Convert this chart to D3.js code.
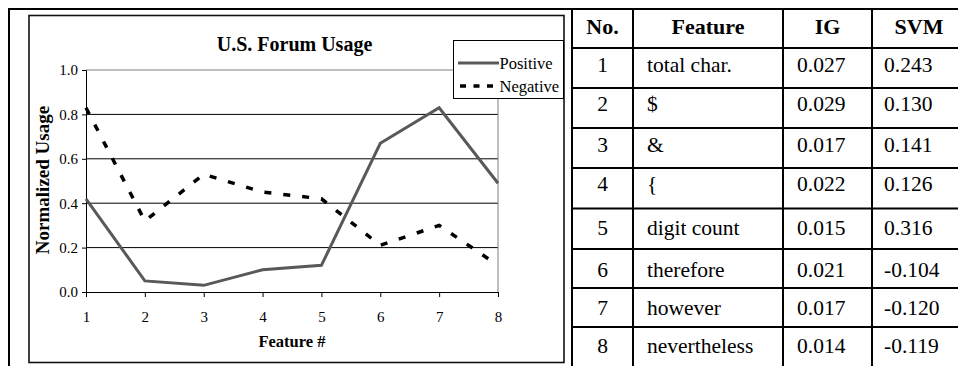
<!DOCTYPE html>
<html>
<head>
<meta charset="utf-8">
<script src="https://cdn.jsdelivr.net/npm/d3@7/dist/d3.min.js"></script>
<style>
  html, body { margin: 0; padding: 0; background: #fff; }
  svg { display: block; }
</style>
</head>
<body>
<svg id="fig" width="958" height="366"></svg>
<script>
// Line chart data: normalized usage per feature
const features = [1, 2, 3, 4, 5, 6, 7, 8];
const positive = [0.42, 0.05, 0.03, 0.10, 0.12, 0.67, 0.83, 0.49];
const negative = [0.83, 0.32, 0.53, 0.45, 0.42, 0.21, 0.30, 0.12];
const yTicks = [0.0, 0.2, 0.4, 0.6, 0.8, 1.0];
const seriesNames = ["Positive", "Negative"];

// Feature table
const tableHeader = ["No.", "Feature", "IG", "SVM"];
const tableNo = ["1", "2", "3", "4", "5", "6", "7", "8"];
const tableFeature = ["total char.", "$", "&", "{", "digit count", "therefore", "however", "nevertheless"];
const tableIG = ["0.027", "0.029", "0.017", "0.022", "0.015", "0.021", "0.017", "0.014"];
const tableSVM = ["0.243", "0.130", "0.141", "0.126", "0.316", "-0.104", "-0.120", "-0.119"];

const SERIF = "'Liberation Serif', 'Times New Roman', 'DejaVu Serif', serif";
const svg = d3.select("#fig");
svg.attr("font-family", SERIF);

function txt(sel, size, bold) {
  return sel.attr("font-family", SERIF).style("font-family", SERIF)
    .attr("font-size", size).style("font-size", size + "px")
    .style("font-weight", bold ? "bold" : "normal").attr("fill", "#000");
}

// ---- outer frame ----
svg.append("line").attr("x1", 8).attr("x2", 958).attr("y1", 9).attr("y2", 9)
  .attr("stroke", "#000").attr("stroke-width", 2);
svg.append("line").attr("x1", 9).attr("x2", 9).attr("y1", 8).attr("y2", 366)
  .attr("stroke", "#000").attr("stroke-width", 2);

// ---- chart frame ----
svg.append("rect").attr("x", 29).attr("y", 15.5).attr("width", 535).attr("height", 347)
  .attr("fill", "#fff").attr("stroke", "#111").attr("stroke-width", 1.6);

const plot = { left: 86, right: 498, top: 70, bottom: 292 };
const x = d3.scaleLinear().domain([1, 8]).range([plot.left, plot.right]);
const y = d3.scaleLinear().domain([0, 1]).range([plot.bottom, plot.top]);

const g = svg.append("g");

// gridlines
g.selectAll("line.grid").data(yTicks.filter(v => v > 0)).join("line")
  .attr("class", "grid")
  .attr("x1", plot.left).attr("x2", plot.right)
  .attr("y1", d => y(d)).attr("y2", d => y(d))
  .attr("stroke", d => d === 1 ? "#808080" : "#000").attr("stroke-width", 1);

// plot area right edge
g.append("line").attr("x1", plot.right).attr("x2", plot.right)
  .attr("y1", plot.top).attr("y2", plot.bottom)
  .attr("stroke", "#808080").attr("stroke-width", 1);

// y axis
const yAxis = d3.axisLeft(y).tickValues(yTicks).tickFormat(d3.format(".1f"))
  .tickSize(4).tickPadding(4);
g.append("g").attr("transform", `translate(${plot.left},0)`).call(yAxis)
  .call(a => a.attr("font-family", SERIF))
  .call(a => txt(a.selectAll("text"), 15, false))
  .call(a => a.selectAll("line, path").attr("stroke", "#000"));

// x axis
const xAxis = d3.axisBottom(x).tickValues(features).tickFormat(d3.format("d"))
  .tickSize(5).tickPadding(14).tickSizeOuter(0);
g.append("g").attr("transform", `translate(0,${plot.bottom})`).call(xAxis)
  .call(a => a.attr("font-family", SERIF))
  .call(a => txt(a.selectAll("text"), 15, false))
  .call(a => a.selectAll("line, path").attr("stroke", "#000"));

// series lines
const line = d3.line().x((d, i) => x(features[i])).y(d => y(d));
g.append("path").datum(positive).attr("d", line)
  .attr("fill", "none").attr("stroke", "#595959").attr("stroke-width", 3)
  .attr("stroke-linejoin", "miter");
g.append("path").datum(negative).attr("d", line)
  .attr("fill", "none").attr("stroke", "#000").attr("stroke-width", 3.5)
  .attr("stroke-dasharray", "7,12");

// titles
txt(svg.append("text"), 20, true).attr("x", 294.5).attr("y", 51)
  .attr("text-anchor", "middle").text("U.S. Forum Usage");
txt(svg.append("text"), 19, true).attr("transform", "translate(49,180) rotate(-90)")
  .attr("text-anchor", "middle").text("Normalized Usage");
txt(svg.append("text"), 16.5, true).attr("x", (plot.left + plot.right) / 2).attr("y", 347)
  .attr("text-anchor", "middle").text("Feature #");

// legend
const lg = svg.append("g");
lg.append("rect").attr("x", 453.5).attr("y", 40.5).attr("width", 110).attr("height", 58)
  .attr("fill", "#fff").attr("stroke", "#000").attr("stroke-width", 1);
const legendRows = [
  { name: seriesNames[0], y: 63, color: "#595959", w: 3, dash: null, x1: 458 },
  { name: seriesNames[1], y: 86, color: "#000", w: 3.5, dash: "6,7.5", x1: 460 }
];
legendRows.forEach(r => {
  lg.append("line").attr("x1", r.x1).attr("x2", 499).attr("y1", r.y).attr("y2", r.y)
    .attr("stroke", r.color).attr("stroke-width", r.w)
    .attr("stroke-dasharray", r.dash);
  txt(lg.append("text"), 16.5, false).attr("x", 499.5).attr("y", r.y + 5.5).text(r.name);
});

// ---- table ----
const colEdges = [572, 633, 783, 872, 966];
const rowEdges = [9, 48, 88, 128, 168, 208.5, 249, 288, 327, 367];
const tg = svg.append("g");
tg.selectAll("line.h").data(rowEdges).join("line").attr("class", "h")
  .attr("x1", colEdges[0] - 1).attr("x2", 958)
  .attr("y1", d => d).attr("y2", d => d)
  .attr("stroke", "#000").attr("stroke-width", 2);
tg.selectAll("line.v").data(colEdges).join("line").attr("class", "v")
  .attr("x1", d => d).attr("x2", d => d)
  .attr("y1", rowEdges[0]).attr("y2", 366)
  .attr("stroke", "#000").attr("stroke-width", 2);

const colCenter = i => (colEdges[i] + colEdges[i + 1]) / 2;
txt(tg.selectAll("text.hd").data(tableHeader).join("text").attr("class", "hd"), 22, true)
  .attr("x", (d, i) => colCenter(i)).attr("y", 34)
  .attr("text-anchor", "middle").text(d => d);

const baselines = [72, 110.5, 152, 191, 235, 276.5, 315, 353];
const bodyCols = [
  { vals: tableNo, x: colCenter(0), anchor: "middle" },
  { vals: tableFeature, x: 647, anchor: "start" },
  { vals: tableIG, x: 797, anchor: "start" },
  { vals: tableSVM, x: 884, anchor: "start" }
];
bodyCols.forEach(c => {
  txt(tg.append("g").selectAll("text").data(c.vals).join("text"), 21.5, false)
    .attr("x", c.x).attr("y", (d, i) => baselines[i])
    .attr("text-anchor", c.anchor).text(d => d);
});
</script>
</body>
</html>
